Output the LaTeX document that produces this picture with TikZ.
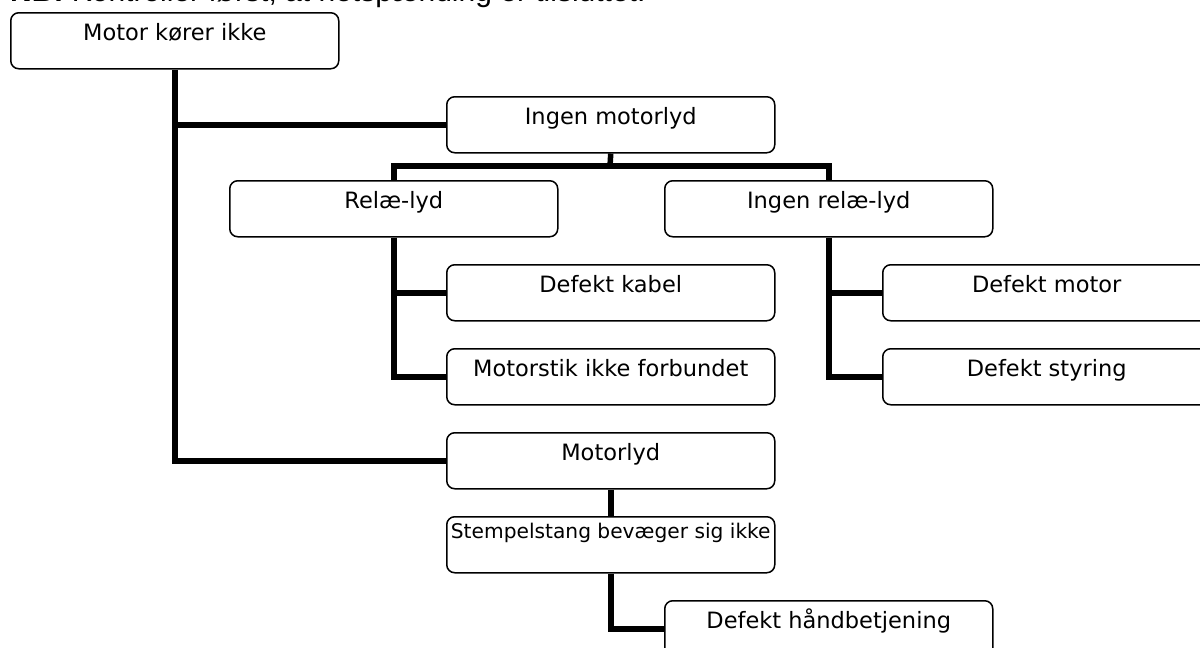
\documentclass[tikz,border=0pt]{standalone}
\usepackage{fontspec}
\setmainfont{DejaVu Sans}
\newfontfamily\arialfont{Liberation Sans}
\begin{document}
\begin{tikzpicture}[x=1pt,y=-1pt,
  box/.style={draw=black, line width=1.5pt, rounded corners=8pt, fill=white,
    anchor=north west, inner sep=0pt, minimum width=328pt,
    text height=28pt, text depth=28pt, font=\fontsize{22.5}{27}\selectfont},
  smallbox/.style={box, text height=22pt, text depth=34pt, font=\fontsize{20.2}{24}\selectfont},
  conn/.style={line width=5.5pt, line join=miter}]
\useasboundingbox (0,0) rectangle (1200,648);
\clip (0,0) rectangle (1200,648);
\fill[white] (0,0) rectangle (1200,648);
\node[anchor=base west, inner sep=0pt, font=\arialfont\fontsize{30}{36}\selectfont] (nb) at (10,1.5) {\textbf{NB:} Kontroller først, at netspænding er tilsluttet.};
\coordinate (h1) at (610,166);
\node[box] (m0) at (10,12) {Motor kører ikke};
\node[box] (a) at (446,96) {Ingen motorlyd};
\node[box] (rl) at (229,180) {Relæ-lyd};
\node[box] (irl) at (664,180) {Ingen relæ-lyd};
\node[box] (dk) at (446,264) {Defekt kabel};
\node[box] (ms) at (446,348) {Motorstik ikke forbundet};
\node[box] (dm) at (882,264) {Defekt motor};
\node[box] (ds) at (882,348) {Defekt styring};
\node[box] (ml) at (446,432) {Motorlyd};
\node[smallbox] (st) at (446,516) {Stempelstang bevæger sig ikke};
\node[box] (dh) at (664,600) {Defekt håndbetjening};
\draw[conn] (m0.south) |- (ml.west);
\draw[conn] (m0.south |- a.west) -- (a.west);
\draw[conn] (a.south) -- (h1);
\draw[conn] (rl.north) |- (h1) -| (irl.north);
\draw[conn] (rl.south) |- (ms.west);
\draw[conn] (rl.south |- dk.west) -- (dk.west);
\draw[conn] (irl.south) |- (ds.west);
\draw[conn] (irl.south |- dm.west) -- (dm.west);
\draw[conn] (ml.south) -- (st.north);
\draw[conn] (st.south) |- (dh.west);
\end{tikzpicture}
\end{document}
